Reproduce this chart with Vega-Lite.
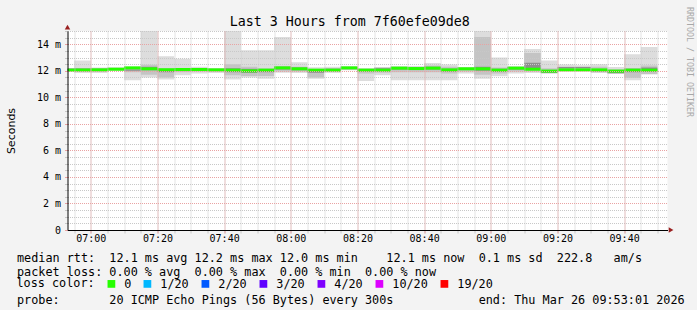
{
  "$schema": "https://vega.github.io/schema/vega-lite/v6.json",
  "background": "#f3f3f3",
  "padding": {"left": 5.5, "top": 6, "right": 5, "bottom": 10},
  "config": {"font": "DejaVu Sans Mono"},
  "title": {
    "text": "Last 3 Hours from 7f60efe09de8",
    "font": "DejaVu Sans Mono",
    "fontSize": 13.3,
    "fontWeight": "normal",
    "color": "#000000",
    "anchor": "middle",
    "frame": "bounds",
    "baseline": "alphabetic",
    "offset": -32
  },
  "width": 600,
  "height": 199,
  "view": {"fill": "#ffffff", "stroke": null},
  "resolve": {"axis": {"x": "independent", "y": "independent"}},
  "data": {"values": [
      {"t0": "2026-03-26T06:53:01Z", "t1": "2026-03-26T06:55:00Z", "med": 12.05, "lo": 11.95, "hi": 12.18, "mlo": 11.98, "mhi": 12.15, "dlo": 12.02, "dhi": 12.17, "loss": "0"},
      {"t0": "2026-03-26T06:55:00Z", "t1": "2026-03-26T07:00:00Z", "med": 12.06, "lo": 11.84, "hi": 12.77, "mlo": 11.93, "mhi": 12.2, "dlo": 12.0, "dhi": 12.17, "loss": "0"},
      {"t0": "2026-03-26T07:00:00Z", "t1": "2026-03-26T07:05:00Z", "med": 12.07, "lo": 11.84, "hi": 12.24, "mlo": 11.95, "mhi": 12.2, "dlo": 12.02, "dhi": 12.15, "loss": "0"},
      {"t0": "2026-03-26T07:05:00Z", "t1": "2026-03-26T07:10:00Z", "med": 12.12, "lo": 12.02, "hi": 12.27, "mlo": 12.04, "mhi": 12.22, "dlo": 12.08, "dhi": 12.2, "loss": "0"},
      {"t0": "2026-03-26T07:10:00Z", "t1": "2026-03-26T07:15:00Z", "med": 12.22, "lo": 11.29, "hi": 12.32, "mlo": 11.9, "mhi": 12.28, "dlo": 12.0, "dhi": 12.1, "loss": "0"},
      {"t0": "2026-03-26T07:15:00Z", "t1": "2026-03-26T07:20:00Z", "med": 12.15, "lo": 11.49, "hi": 15.6, "mlo": 11.7, "mhi": 12.45, "dlo": 12.05, "dhi": 12.3, "loss": "0"},
      {"t0": "2026-03-26T07:20:00Z", "t1": "2026-03-26T07:25:00Z", "med": 12.08, "lo": 11.34, "hi": 13.1, "mlo": 11.5, "mhi": 12.1, "dlo": 11.9, "dhi": 12.15, "loss": "0"},
      {"t0": "2026-03-26T07:25:00Z", "t1": "2026-03-26T07:30:00Z", "med": 12.1, "lo": 11.67, "hi": 12.9, "mlo": 11.9, "mhi": 12.2, "dlo": 12.0, "dhi": 12.17, "loss": "0"},
      {"t0": "2026-03-26T07:30:00Z", "t1": "2026-03-26T07:35:00Z", "med": 12.1, "lo": 11.79, "hi": 12.3, "mlo": 11.95, "mhi": 12.2, "dlo": 12.05, "dhi": 12.17, "loss": "0"},
      {"t0": "2026-03-26T07:35:00Z", "t1": "2026-03-26T07:40:00Z", "med": 12.07, "lo": 11.84, "hi": 12.2, "mlo": 11.95, "mhi": 12.17, "dlo": 12.0, "dhi": 12.12, "loss": "0"},
      {"t0": "2026-03-26T07:40:00Z", "t1": "2026-03-26T07:45:00Z", "med": 12.05, "lo": 11.34, "hi": 15.6, "mlo": 11.67, "mhi": 12.5, "dlo": 11.9, "dhi": 12.2, "loss": "0"},
      {"t0": "2026-03-26T07:45:00Z", "t1": "2026-03-26T07:50:00Z", "med": 12.0, "lo": 11.49, "hi": 13.55, "mlo": 11.6, "mhi": 12.3, "dlo": 11.85, "dhi": 12.15, "loss": "0"},
      {"t0": "2026-03-26T07:50:00Z", "t1": "2026-03-26T07:55:00Z", "med": 12.05, "lo": 11.41, "hi": 13.55, "mlo": 11.6, "mhi": 12.2, "dlo": 11.9, "dhi": 12.12, "loss": "0"},
      {"t0": "2026-03-26T07:55:00Z", "t1": "2026-03-26T08:00:00Z", "med": 12.22, "lo": 11.86, "hi": 14.55, "mlo": 11.95, "mhi": 12.35, "dlo": 12.1, "dhi": 12.3, "loss": "0"},
      {"t0": "2026-03-26T08:00:00Z", "t1": "2026-03-26T08:05:00Z", "med": 12.15, "lo": 11.84, "hi": 12.64, "mlo": 11.95, "mhi": 12.3, "dlo": 12.05, "dhi": 12.25, "loss": "0"},
      {"t0": "2026-03-26T08:05:00Z", "t1": "2026-03-26T08:10:00Z", "med": 12.05, "lo": 11.41, "hi": 12.27, "mlo": 11.5, "mhi": 12.1, "dlo": 11.85, "dhi": 12.1, "loss": "0"},
      {"t0": "2026-03-26T08:10:00Z", "t1": "2026-03-26T08:15:00Z", "med": 12.05, "lo": 11.84, "hi": 12.3, "mlo": 11.95, "mhi": 12.2, "dlo": 12.0, "dhi": 12.15, "loss": "0"},
      {"t0": "2026-03-26T08:15:00Z", "t1": "2026-03-26T08:20:00Z", "med": 12.22, "lo": 12.04, "hi": 12.34, "mlo": 12.08, "mhi": 12.3, "dlo": 12.15, "dhi": 12.28, "loss": "0"},
      {"t0": "2026-03-26T08:20:00Z", "t1": "2026-03-26T08:25:00Z", "med": 12.05, "lo": 11.24, "hi": 12.19, "mlo": 11.8, "mhi": 12.15, "dlo": 11.97, "dhi": 12.12, "loss": "0"},
      {"t0": "2026-03-26T08:25:00Z", "t1": "2026-03-26T08:30:00Z", "med": 12.05, "lo": 11.66, "hi": 12.29, "mlo": 11.85, "mhi": 12.25, "dlo": 12.0, "dhi": 12.2, "loss": "0"},
      {"t0": "2026-03-26T08:30:00Z", "t1": "2026-03-26T08:35:00Z", "med": 12.2, "lo": 11.29, "hi": 12.34, "mlo": 11.9, "mhi": 12.3, "dlo": 12.1, "dhi": 12.28, "loss": "0"},
      {"t0": "2026-03-26T08:35:00Z", "t1": "2026-03-26T08:40:00Z", "med": 12.17, "lo": 11.29, "hi": 12.34, "mlo": 11.9, "mhi": 12.3, "dlo": 12.08, "dhi": 12.25, "loss": "0"},
      {"t0": "2026-03-26T08:40:00Z", "t1": "2026-03-26T08:45:00Z", "med": 12.2, "lo": 11.29, "hi": 12.59, "mlo": 11.9, "mhi": 12.4, "dlo": 12.1, "dhi": 12.3, "loss": "0"},
      {"t0": "2026-03-26T08:45:00Z", "t1": "2026-03-26T08:50:00Z", "med": 12.07, "lo": 11.29, "hi": 12.47, "mlo": 11.8, "mhi": 12.3, "dlo": 11.95, "dhi": 12.15, "loss": "0"},
      {"t0": "2026-03-26T08:50:00Z", "t1": "2026-03-26T08:55:00Z", "med": 12.15, "lo": 11.79, "hi": 12.29, "mlo": 11.95, "mhi": 12.25, "dlo": 12.08, "dhi": 12.22, "loss": "0"},
      {"t0": "2026-03-26T08:55:00Z", "t1": "2026-03-26T09:00:00Z", "med": 12.15, "lo": 11.41, "hi": 15.6, "mlo": 11.7, "mhi": 14.55, "dlo": 12.0, "dhi": 12.3, "loss": "0"},
      {"t0": "2026-03-26T09:00:00Z", "t1": "2026-03-26T09:05:00Z", "med": 12.05, "lo": 11.59, "hi": 13.0, "mlo": 11.8, "mhi": 12.25, "dlo": 11.95, "dhi": 12.15, "loss": "0"},
      {"t0": "2026-03-26T09:05:00Z", "t1": "2026-03-26T09:10:00Z", "med": 12.2, "lo": 11.79, "hi": 12.34, "mlo": 11.95, "mhi": 12.3, "dlo": 12.1, "dhi": 12.28, "loss": "0"},
      {"t0": "2026-03-26T09:10:00Z", "t1": "2026-03-26T09:15:00Z", "med": 12.12, "lo": 11.84, "hi": 13.65, "mlo": 11.95, "mhi": 13.35, "dlo": 12.17, "dhi": 12.6, "loss": "0"},
      {"t0": "2026-03-26T09:15:00Z", "t1": "2026-03-26T09:20:00Z", "med": 11.98, "lo": 11.79, "hi": 12.77, "mlo": 11.82, "mhi": 12.2, "dlo": 11.85, "dhi": 12.02, "loss": "0"},
      {"t0": "2026-03-26T09:20:00Z", "t1": "2026-03-26T09:25:00Z", "med": 12.07, "lo": 12.02, "hi": 12.47, "mlo": 12.05, "mhi": 12.3, "dlo": 12.17, "dhi": 12.28, "loss": "0"},
      {"t0": "2026-03-26T09:25:00Z", "t1": "2026-03-26T09:30:00Z", "med": 12.07, "lo": 12.03, "hi": 12.42, "mlo": 12.05, "mhi": 12.3, "dlo": 12.2, "dhi": 12.29, "loss": "0"},
      {"t0": "2026-03-26T09:30:00Z", "t1": "2026-03-26T09:35:00Z", "med": 12.07, "lo": 11.84, "hi": 12.49, "mlo": 11.9, "mhi": 12.3, "dlo": 11.97, "dhi": 12.05, "loss": "0"},
      {"t0": "2026-03-26T09:35:00Z", "t1": "2026-03-26T09:40:00Z", "med": 11.98, "lo": 11.79, "hi": 12.29, "mlo": 11.8, "mhi": 12.1, "dlo": 11.82, "dhi": 11.92, "loss": "0"},
      {"t0": "2026-03-26T09:40:00Z", "t1": "2026-03-26T09:45:00Z", "med": 12.05, "lo": 11.29, "hi": 13.25, "mlo": 11.45, "mhi": 12.2, "dlo": 11.9, "dhi": 12.15, "loss": "0"},
      {"t0": "2026-03-26T09:45:00Z", "t1": "2026-03-26T09:50:00Z", "med": 12.05, "lo": 11.72, "hi": 13.8, "mlo": 11.75, "mhi": 12.4, "dlo": 11.95, "dhi": 12.25, "loss": "0"}
  ]},
  "layer": [
    {
      "mark": {"type": "rect", "color": "#dddddd", "clip": true},
      "encoding": {
        "x": {
          "field": "t0", "type": "temporal",
          "scale": {"type": "utc", "domain": [1774507981000, 1774518781000], "nice": false},
          "axis": {
            "orient": "bottom", "labels": false, "domain": false,
            "values": [1774508100000, 1774508400000, 1774508700000, 1774509000000, 1774509300000, 1774509600000, 1774509900000, 1774510200000, 1774510500000, 1774510800000, 1774511100000, 1774511400000, 1774511700000, 1774512000000, 1774512300000, 1774512600000, 1774512900000, 1774513200000, 1774513500000, 1774513800000, 1774514100000, 1774514400000, 1774514700000, 1774515000000, 1774515300000, 1774515600000, 1774515900000, 1774516200000, 1774516500000, 1774516800000, 1774517100000, 1774517400000, 1774517700000, 1774518000000, 1774518300000, 1774518600000],
            "title": "probe:\u00a0\u00a0\u00a0\u00a0\u00a0\u00a0\u00a020 ICMP Echo Pings (56 Bytes) every 300s\u00a0\u00a0\u00a0\u00a0\u00a0\u00a0\u00a0\u00a0\u00a0\u00a0\u00a0\u00a0end: Thu Mar 26 09:53:01 2026",
            "titleFont": "DejaVu Sans Mono", "titleFontSize": 11.8, "titleFontWeight": "normal", "titleColor": "#000000",
            "titleAlign": "left", "titleAnchor": "start", "titleBaseline": "top", "titleX": -51, "titleY": 64,
            "tickSize": 3, "tickColor": "#c8c8c8",
            "grid": true, "gridDash": [1, 1], "gridColor": "#c8c8c8",
            "zindex": 1
          }
        },
        "x2": {"field": "t1"},
        "y": {
          "field": "lo", "type": "quantitative",
          "scale": {"domain": [0, 15], "nice": false, "zero": true},
          "axis": {
            "orient": "left", "title": null, "labels": false, "domain": false,
            "values": [0, 0.5, 1, 1.5, 2, 2.5, 3, 3.5, 4, 4.5, 5, 5.5, 6, 6.5, 7, 7.5, 8, 8.5, 9, 9.5, 10, 10.5, 11, 11.5, 12, 12.5, 13, 13.5, 14, 14.5, 15],
            "tickSize": 3, "tickColor": "#c8c8c8",
            "grid": true, "gridDash": [1, 1], "gridColor": "#c8c8c8",
            "zindex": 1
          }
        },
        "y2": {"field": "hi"}
      }
    },
    {
      "mark": {"type": "rect", "color": "#c4c4c4", "clip": true},
      "encoding": {
        "x": {
          "field": "t0", "type": "temporal",
          "axis": {
            "orient": "bottom",
            "values": [1774508400000, 1774509600000, 1774510800000, 1774512000000, 1774513200000, 1774514400000, 1774515600000, 1774516800000, 1774518000000],
            "labelExpr": "(floor(datum.value / 3600000) % 24 < 10 ? '0' : '') + (floor(datum.value / 3600000) % 24) + ':' + (floor(datum.value / 60000) % 60 < 10 ? '0' : '') + (floor(datum.value / 60000) % 60)",
            "title": [
              "median rtt:\u00a0\u00a012.1 ms avg 12.2 ms max 12.0 ms min\u00a0\u00a0\u00a0\u00a012.1 ms now\u00a0\u00a00.1 ms sd\u00a0\u00a0222.8\u00a0\u00a0\u00a0am/s",
              "packet loss: 0.00 % avg\u00a0\u00a00.00 % max\u00a0\u00a00.00 % min\u00a0\u00a00.00 % now"
            ],
            "titleFont": "DejaVu Sans Mono", "titleFontSize": 11.8, "titleFontWeight": "normal", "titleColor": "#000000",
            "titleAlign": "left", "titleAnchor": "start", "titleBaseline": "top", "titleX": -51, "titleY": 22, "titleLineHeight": 14,
            "labelFont": "DejaVu Sans Mono", "labelFontSize": 10, "labelColor": "#000000",
            "labelFlush": false, "labelOverlap": false, "labelPadding": 0,
            "tickSize": 3, "tickColor": "#e9a3a3",
            "domainColor": "#000000", "domainWidth": 1,
            "grid": true, "gridDash": [1, 1], "gridColor": "#e9a3a3",
            "zindex": 2
          }
        },
        "x2": {"field": "t1"},
        "y": {
          "field": "mlo", "type": "quantitative",
          "axis": {
            "orient": "left",
            "values": [0, 2, 4, 6, 8, 10, 12, 14],
            "labelExpr": "datum.value == 0 ? '0' : datum.value + ' m'",
            "title": "Seconds",
            "titleFont": "DejaVu Sans", "titleFontSize": 11, "titleFontWeight": "normal", "titleColor": "#000000",
            "titleX": -56, "titleY": 99.5, "titleBaseline": "middle", "titleAlign": "center", "titleAngle": 270,
            "labelFont": "DejaVu Sans Mono", "labelFontSize": 10, "labelColor": "#000000",
            "labelFlush": false, "labelOverlap": false, "labelPadding": 4,
            "tickSize": 3, "tickColor": "#e9a3a3",
            "domainColor": "#000000", "domainWidth": 1,
            "grid": true, "gridDash": [1, 1], "gridColor": "#e9a3a3",
            "zindex": 2
          }
        },
        "y2": {"field": "mhi"}
      }
    },
    {
      "mark": {"type": "rect", "color": "#8e8e8e", "clip": true},
      "encoding": {
        "x": {"field": "t0", "type": "temporal", "axis": null},
        "x2": {"field": "t1"},
        "y": {"field": "dlo", "type": "quantitative", "axis": null},
        "y2": {"field": "dhi"}
      }
    },
    {
      "mark": {"type": "rule", "strokeWidth": 3, "strokeCap": "butt"},
      "encoding": {
        "x": {"field": "t0", "type": "temporal", "axis": null},
        "x2": {"field": "t1"},
        "y": {"field": "med", "type": "quantitative", "axis": null},
        "stroke": {
          "field": "loss", "type": "nominal",
          "scale": {"domain": ["0", "1/20", "2/20", "3/20", "4/20", "10/20", "19/20"], "range": ["#26ff00", "#00b8ff", "#0059ff", "#5e00ff", "#7e00ff", "#dd00ff", "#ff0000"]},
          "legend": {
            "orient": "none", "legendX": -51, "legendY": 247,
            "direction": "horizontal", "padding": 0, "gridAlign": "none",
            "title": "loss color:", "titleOrient": "left", "titlePadding": 10,
            "titleFont": "DejaVu Sans Mono", "titleFontSize": 11.8, "titleFontWeight": "normal", "titleColor": "#000000",
            "titleBaseline": "top", "titleAnchor": "start",
            "symbolType": "square", "symbolSize": 14, "symbolStrokeWidth": 4,
            "labelFont": "DejaVu Sans Mono", "labelFontSize": 11.8, "labelColor": "#000000",
            "labelOffset": 7, "columnPadding": 6
          }
        }
      }
    },
    {
      "data": {"values": [{}]},
      "mark": {"type": "point", "shape": "triangle-up", "filled": true, "color": "#9a2020", "size": 30, "opacity": 1},
      "encoding": {
        "x": {"datum": 1774507981000, "type": "temporal", "axis": null},
        "y": {"datum": 15.3, "type": "quantitative", "axis": null}
      }
    },
    {
      "data": {"values": [{}]},
      "mark": {"type": "point", "shape": "triangle-right", "filled": true, "color": "#9a2020", "size": 30, "opacity": 1},
      "encoding": {
        "x": {"datum": 1774518845000, "type": "temporal", "axis": null},
        "y": {"datum": 0, "type": "quantitative", "axis": null}
      }
    },
    {
      "data": {"values": [{}]},
      "mark": {"type": "text", "angle": 90, "align": "left", "baseline": "middle", "font": "DejaVu Sans Mono", "fontSize": 8.3, "color": "#a8a8a8"},
      "encoding": {
        "x": {"datum": 1774519168000, "type": "temporal", "axis": null},
        "y": {"datum": 16.81, "type": "quantitative", "axis": null},
        "text": {"value": "RRDTOOL / TOBI OETIKER"}
      }
    }
  ]
}
